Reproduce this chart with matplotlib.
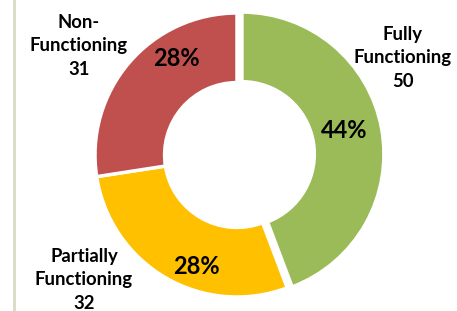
import matplotlib
matplotlib.use("Agg")
import matplotlib.pyplot as plt
from matplotlib.lines import Line2D

categories = ["Fully\nFunctioning", "Partially\nFunctioning", "Non-\nFunctioning"]
values = [50, 32, 31]
pct_labels = ["44%", "28%", "28%"]
colors = ["#9BBB59", "#FFC000", "#C0504D"]

W, H = 457, 311
fig = plt.figure(figsize=(W / 100, H / 100), dpi=100)
ax = fig.add_axes([0, 0, 1, 1])
ax.axis("off")

cx, cy, R = 237, 155, 142
wedges, _ = ax.pie(values, colors=colors, startangle=90, counterclock=False,
                   center=(cx, H - cy), radius=R, explode=[5, 0, 0],
                   wedgeprops=dict(width=R * 0.49, edgecolor="white", linewidth=2.5))
ax.set_aspect("auto")
ax.set_xlim(0, W)
ax.set_ylim(0, H)

font = "Lato"
lab_pos = [(403, 58), (84, 280), (79, 46)]
pct_pos = [(344, 131), (196, 267), (176, 58)]
for cat, v, (x, y) in zip(categories, values, lab_pos):
    ax.text(x, H - y, f"{cat}\n{v}", ha="center", va="center", fontsize=13.3,
            fontweight="bold", family=font, linespacing=1.45, color="black",
            zorder=5)
for p, (x, y) in zip(pct_labels, pct_pos):
    ax.text(x, H - y, p, ha="center", va="center", fontsize=17,
            fontweight="bold", family=font, color="black", zorder=5)

ax.add_line(Line2D([14, 14], [0, H], color="#D9D9C6", linewidth=2, zorder=5))

fig.savefig("out.png", dpi=100)
